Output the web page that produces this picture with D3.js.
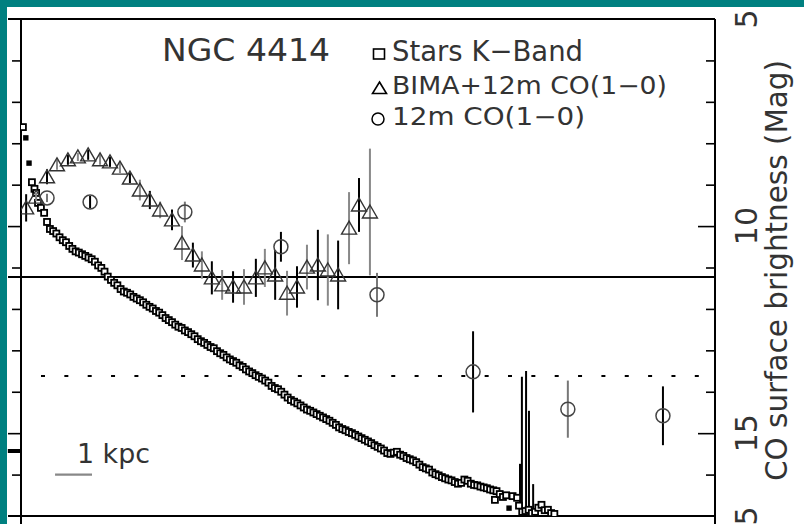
<!DOCTYPE html>
<html>
<head>
<meta charset="utf-8">
<script src="https://cdn.jsdelivr.net/npm/d3@7"></script>
<style>
  body { margin: 0; background: #fff; }
  svg { display: block; font-family: "DejaVu Sans", sans-serif; }
</style>
</head>
<body>
<svg id="chart" width="804" height="524"></svg>
<script>
// radius in arcsec, surface brightness in mag
const starR = [0.6, 3.4, 4.2, 4.7, 5.3, 6.2, 7.2, 8.1, 9.0,
  10, 11, 12, 13, 14, 15, 16, 17, 18, 19, 20, 21, 22, 23, 24, 25, 26, 27, 28, 29,
  30, 31, 32, 33, 34, 35, 36, 37, 38, 39, 40, 41, 42, 43, 44, 45, 46, 47, 48, 49,
  50, 51, 52, 53, 54, 55, 56, 57, 58, 59, 60, 61, 62, 63, 64, 65, 66, 67, 68, 69,
  70, 71, 72, 73, 74, 75, 76, 77, 78, 79, 80, 81, 82, 83, 84, 85, 86, 87, 88, 89,
  90, 91, 92, 93, 94, 95, 96, 97, 98, 99, 100, 101, 102, 103, 104, 105, 106, 107, 108, 109,
  110, 111, 112, 113, 114, 115, 116, 117, 118, 119, 120, 121, 122, 123, 124, 125, 126, 127, 128, 129,
  130, 131, 132, 133, 134, 135, 136, 137, 138, 139, 140, 141, 142, 143, 144, 145, 146, 147, 147.5, 148, 149,
  150, 151, 153, 154.4, 155, 156, 157, 158, 159, 160, 161, 162, 163, 164, 165, 166]
const starMag = [7.61, 8.94, 9.10, 9.20, 9.44, 9.56, 9.68, 9.90, 10.07,
  10.12, 10.18, 10.27, 10.34, 10.39, 10.48, 10.55, 10.61, 10.64, 10.68, 10.72, 10.76, 10.80, 10.86, 10.95, 11.01, 11.10, 11.22, 11.30, 11.37,
  11.43, 11.52, 11.58, 11.61, 11.65, 11.71, 11.75, 11.79, 11.84, 11.90, 11.95, 11.99, 12.05, 12.09, 12.15, 12.22, 12.27, 12.32, 12.38, 12.43,
  12.46, 12.52, 12.56, 12.61, 12.66, 12.73, 12.78, 12.82, 12.87, 12.92, 12.95, 13.02, 13.07, 13.11, 13.17, 13.22, 13.26, 13.30, 13.36, 13.40,
  13.46, 13.51, 13.55, 13.60, 13.64, 13.68, 13.73, 13.78, 13.86, 13.91, 13.94, 14.00, 14.07, 14.14, 14.20, 14.24, 14.28, 14.33, 14.38, 14.43,
  14.46, 14.50, 14.54, 14.58, 14.62, 14.66, 14.70, 14.75, 14.80, 14.86, 14.90, 14.93, 14.97, 15.00, 15.04, 15.08, 15.12, 15.16, 15.20, 15.24,
  15.29, 15.33, 15.37, 15.42, 15.48, 15.50, 15.47, 15.45, 15.52, 15.55, 15.60, 15.63, 15.66, 15.70, 15.76, 15.82, 15.85, 15.88, 15.95, 15.99,
  16.02, 16.06, 16.09, 16.12, 16.14, 16.18, 16.22, 16.20, 16.12, 16.15, 16.22, 16.25, 16.26, 16.29, 16.31, 16.33, 16.36, 16.38, 16.61, 16.40, 16.47,
  16.54, 16.50, 16.52, 16.56, 16.75, 16.90, 16.88, 16.85, 16.93, 16.90, 16.80, 16.73, 16.86, 16.85, 16.93, 16.95]
// filled star points
const dotR = [1.5, 2.5, 151.9]
const dotMag = [7.87, 8.48, 16.81]
// star points with big error bars near the edge of the disk
const spikeR = [155.3, 155.9, 157.2, 158.1, 159.4]
const spikeMag = [16.95, 16.95, 16.95, 16.95, 16.95]
const spikeErr = [1.21, 3.31, 3.45, 2.49, 0.72]

// BIMA+12m CO(1-0)
const bimaR = [1.6, 4.7, 8.1, 11.2, 14.6, 17.7, 20.9, 24.6, 27.7, 30.8, 33.9, 37.0, 40.1, 43.3, 47.0, 50.1, 53.5, 56.3,
  59.4, 62.6, 66.0, 69.4, 73.1, 75.9, 79.1, 82.8, 85.9, 89.0, 92.4, 95.5, 98.7, 102.1, 105.2, 108.6]
const bimaMag = [9.56, 9.30, 8.81, 8.52, 8.40, 8.33, 8.28, 8.40, 8.45, 8.60, 8.84, 9.13, 9.37, 9.61, 9.85, 10.41, 10.70, 10.94,
  11.25, 11.42, 11.47, 11.47, 11.25, 11.01, 11.18, 11.62, 11.47, 10.99, 10.94, 11.06, 11.18, 10.05, 9.49, 9.66]
const bimaErr = [0.33, 0.10, 0.18, 0.12, 0.12, 0.10, 0.12, 0.12, 0.12, 0.12, 0.12, 0.25, 0.22, 0.20, 0.25, 0.41, 0.30, 0.33,
  0.40, 0.36, 0.38, 0.43, 0.46, 0.46, 0.60, 0.54, 0.50, 0.54, 0.85, 0.86, 0.83, 0.87, 0.65, 1.53]

// 12m CO(1-0)
const coR = [8.1, 21.5, 51.0, 80.9, 110.8, 140.7, 170.2, 199.8]
const coMag = [9.32, 9.42, 9.66, 10.50, 11.66, 13.52, 14.42, 14.58]
const coErr = [0.10, 0.15, 0.25, 0.36, 0.53, 0.98, 0.69, 0.71]

const solidLevel = 11.23
const dottedLevel = 13.62
const kpcBar = [10.6, 22.1]
const kpcMag = 16.0
// piece of the neighbouring panel poking in at the left
const edgeR = [-4.1, -0.3]
const edgeMag = [15.43, 15.43]

const minorTicks = [6, 7, 8, 9, 11, 12, 13, 14, 16]
const majorTicks = [10, 15]
const labelTicks = [5, 10, 15, 17]
const labelText = ['5', '10', '15', '5']
const legendLabels = ['Stars K\u2212Band', 'BIMA+12m  CO(1\u22120)', '12m  CO(1\u22120)']

const pLeft = 21, pRight = 715, pTop = 19, pBottom = 516
const ink = '#333'

const x = d3.scaleLinear().domain([0, 216]).range([pLeft, pRight])
const y = d3.scaleLinear().domain([5, 17]).range([pTop, pBottom])

const svg = d3.select('#chart')

svg.append('rect').attr('width', 804).attr('height', 524).attr('fill', '#fff')
svg.append('rect').attr('width', 804).attr('height', 7).attr('fill', '#008080')
svg.append('rect').attr('width', 7).attr('height', 524).attr('fill', '#008080')

svg.append('clipPath').attr('id', 'plot')
  .append('rect').attr('x', pLeft).attr('y', pTop).attr('width', pRight - pLeft).attr('height', pBottom - pTop)

// left axis, ticks outward
svg.append('g').attr('transform', `translate(${pLeft},0)`)
  .call(d3.axisLeft(y).tickValues(minorTicks).tickSize(9).tickFormat(''))
svg.append('g').attr('transform', `translate(${pLeft},0)`)
  .call(d3.axisLeft(y).tickValues(majorTicks).tickSize(13).tickFormat(''))
// right axis, ticks inward
svg.append('g').attr('transform', `translate(${pRight},0)`)
  .call(d3.axisLeft(y).tickValues(minorTicks).tickSize(9).tickFormat(''))
svg.append('g').attr('transform', `translate(${pRight},0)`)
  .call(d3.axisLeft(y).tickValues(majorTicks).tickSize(17).tickFormat(''))
svg.selectAll('.domain').remove()
svg.selectAll('.tick line').attr('stroke', '#000').attr('stroke-width', 1.6)

// frame
svg.append('line').attr('x1', 8).attr('x2', pRight).attr('y1', pTop).attr('y2', pTop)
  .attr('stroke', '#000').attr('stroke-width', 2)
svg.append('line').attr('x1', 8).attr('x2', pRight).attr('y1', pBottom).attr('y2', pBottom)
  .attr('stroke', '#000').attr('stroke-width', 2)
svg.append('line').attr('x1', pLeft).attr('x2', pLeft).attr('y1', pTop).attr('y2', 524)
  .attr('stroke', '#000').attr('stroke-width', 2)
svg.append('line').attr('x1', pRight).attr('x2', pRight).attr('y1', pTop).attr('y2', 524)
  .attr('stroke', '#000').attr('stroke-width', 2)

// reference levels
svg.append('line').attr('x1', 8).attr('x2', pRight).attr('y1', y(solidLevel)).attr('y2', y(solidLevel))
  .attr('stroke', '#000').attr('stroke-width', 2)
svg.append('line').attr('x1', pLeft).attr('x2', pRight).attr('y1', y(dottedLevel)).attr('y2', y(dottedLevel))
  .attr('stroke', '#000').attr('stroke-width', 2)
  .attr('stroke-dasharray', '4,19.35').attr('stroke-dashoffset', 3.35)

svg.append('line').attr('x1', x(edgeR[0])).attr('x2', x(edgeR[1]))
  .attr('y1', y(edgeMag[0])).attr('y2', y(edgeMag[1]))
  .attr('stroke', '#000').attr('stroke-width', 4)

const g = svg.append('g').attr('clip-path', 'url(#plot)')

// stars
g.selectAll('.spike').data(spikeR).enter().append('line')
  .attr('x1', d => x(d)).attr('x2', d => x(d))
  .attr('y1', (d, i) => y(spikeMag[i] - spikeErr[i])).attr('y2', (d, i) => y(spikeMag[i] + spikeErr[i]))
  .attr('stroke', '#000').attr('stroke-width', 2)
g.selectAll('.star').data(starR).enter().append('rect')
  .attr('x', d => x(d) - 3).attr('y', (d, i) => y(starMag[i]) - 3)
  .attr('width', 6).attr('height', 6)
  .attr('fill', '#fff').attr('stroke', '#000').attr('stroke-width', 1.8)
g.selectAll('.sdot').data(dotR).enter().append('rect')
  .attr('x', d => x(d) - 2.7).attr('y', (d, i) => y(dotMag[i]) - 2.7)
  .attr('width', 5.4).attr('height', 5.4).attr('fill', '#000')

// BIMA triangles
const tri = 'M0,-7L7.5,6L-7.5,6Z'
g.selectAll('.berr').data(bimaR).enter().append('line')
  .attr('x1', d => x(d)).attr('x2', d => x(d))
  .attr('y1', (d, i) => y(bimaMag[i] - bimaErr[i])).attr('y2', (d, i) => y(bimaMag[i] + bimaErr[i]))
  .attr('stroke', (d, i) => i % 2 ? '#888' : '#000').attr('stroke-width', 2)
g.selectAll('.tri').data(bimaR).enter().append('path')
  .attr('d', tri)
  .attr('transform', (d, i) => `translate(${x(d)},${y(bimaMag[i])})`)
  .attr('fill', 'none').attr('stroke', '#333').attr('stroke-width', 1.4)

// 12m circles
g.selectAll('.cerr').data(coR).enter().append('line')
  .attr('x1', d => x(d)).attr('x2', d => x(d))
  .attr('y1', (d, i) => y(coMag[i] - coErr[i])).attr('y2', (d, i) => y(coMag[i] + coErr[i]))
  .attr('stroke', (d, i) => i % 2 ? '#000' : '#777').attr('stroke-width', 2)
g.selectAll('.circ').data(coR).enter().append('circle')
  .attr('cx', d => x(d)).attr('cy', (d, i) => y(coMag[i])).attr('r', 7)
  .attr('fill', 'none').attr('stroke', '#444').attr('stroke-width', 1.5)

// 1 kpc bar
svg.append('line').attr('x1', x(kpcBar[0])).attr('x2', x(kpcBar[1])).attr('y1', y(kpcMag)).attr('y2', y(kpcMag))
  .attr('stroke', '#888').attr('stroke-width', 2.2)
svg.append('text').attr('x', 77).attr('y', 463).attr('font-size', 26).attr('fill', ink)
  .attr('textLength', 73).attr('lengthAdjust', 'spacingAndGlyphs').text('1 kpc')

// title and legend
svg.append('text').attr('x', 162).attr('y', 61).attr('font-size', 32).attr('fill', ink)
  .attr('textLength', 168).attr('lengthAdjust', 'spacingAndGlyphs').text('NGC  4414')

const legendY = [61, 94, 125]
const legendSize = [29, 24, 24]
const legendLen = [191, 275, 193]
legendLabels.forEach((t, i) => {
  svg.append('text').attr('x', 392).attr('y', legendY[i]).attr('font-size', legendSize[i]).attr('fill', ink)
    .attr('textLength', legendLen[i]).attr('lengthAdjust', 'spacingAndGlyphs').text(t)
})
svg.append('rect').attr('x', 373.5).attr('y', 49).attr('width', 11).attr('height', 10)
  .attr('fill', 'none').attr('stroke', '#000').attr('stroke-width', 1.6)
svg.append('path').attr('d', 'M0,-6L7,5.5L-7,5.5Z').attr('transform', 'translate(379.5,88)')
  .attr('fill', 'none').attr('stroke', '#000').attr('stroke-width', 1.6)
svg.append('circle').attr('cx', 378).attr('cy', 119).attr('r', 6)
  .attr('fill', 'none').attr('stroke', '#000').attr('stroke-width', 1.5)

// right tick labels, rotated
labelTicks.forEach((v, i) => {
  svg.append('text').attr('transform', `translate(757,${y(v)}) rotate(-90)`)
    .attr('text-anchor', 'middle').attr('font-size', 30).attr('fill', ink).text(labelText[i])
})
svg.append('text').attr('transform', 'translate(787,270.5) rotate(-90)')
  .attr('text-anchor', 'middle').attr('font-size', 30).attr('fill', ink)
  .attr('textLength', 421).attr('lengthAdjust', 'spacingAndGlyphs')
  .text('CO surface brightness (Mag)')
</script>
</body>
</html>
